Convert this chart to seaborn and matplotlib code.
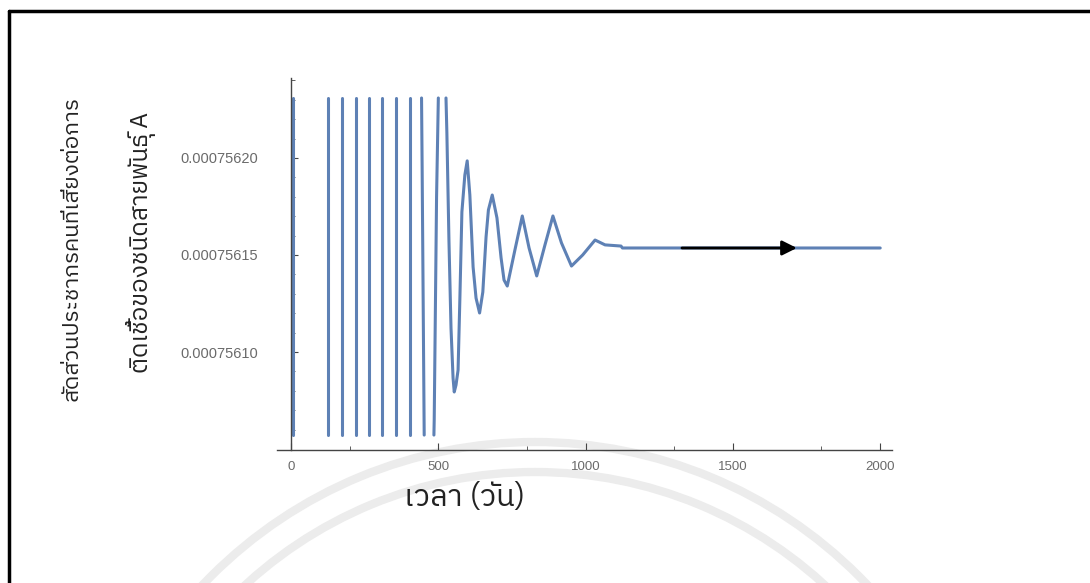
import numpy as np
import pandas as pd
import matplotlib
matplotlib.use("Agg")
import matplotlib.pyplot as plt
import seaborn as sns
from matplotlib import font_manager as fm
from matplotlib.lines import Line2D
from matplotlib.patches import Arc

# ---------------- data ----------------
PLOT_TOP = 0.0007562309   # upper edge of the plotted range (curve clipped here)
PLOT_BOT = 0.0007560572   # lower edge of the plotted range

# days where the curve sweeps through the whole plotted range (alternating down / up)
spike_days = [7, 124, 173, 221, 265, 309, 356, 404]

# last sweep down
sweep_down_days = [443, 445, 452]
sweep_down_vals = [PLOT_TOP, 0.0007561954, PLOT_BOT]

# last sweep up
sweep_up_days = [485, 486, 494, 500]
sweep_up_vals = [PLOT_BOT, 0.0007560650, 0.0007561799, PLOT_TOP]

# damped oscillation settling to the equilibrium
osc_days = [526, 529, 536, 543, 550, 554, 560, 567, 573, 580, 590, 598, 607, 618,
            628, 640, 651, 662, 670, 683, 699, 713, 723, 734, 760, 785, 808, 834,
            862, 889, 918, 952, 990, 1032, 1066, 1120, 1125, 2000]
osc_vals = [0.0007562309, 0.0007562129, 0.0007561577, 0.0007561124, 0.0007560866,
            0.0007560794, 0.0007560830, 0.0007560907, 0.0007561268, 0.0007561722,
            0.0007561912, 0.0007561985, 0.0007561809, 0.0007561438, 0.0007561278,
            0.0007561201, 0.0007561309, 0.0007561593, 0.0007561732, 0.0007561809,
            0.0007561691, 0.0007561485, 0.0007561371, 0.0007561340, 0.0007561526,
            0.0007561701, 0.0007561536, 0.0007561392, 0.0007561552, 0.0007561701,
            0.0007561562, 0.0007561443, 0.0007561500, 0.0007561577, 0.0007561552,
            0.0007561546, 0.0007561536, 0.0007561536]

arrow_start_day = 1327
arrow_end_day = 1717
equilibrium = 0.0007561536

x_major_ticks = [0, 500, 1000, 1500, 2000]
x_minor_ticks = [200, 800, 1300, 1800]
y_major_ticks = [0.00075610, 0.00075615, 0.00075620]
y_tick_labels = ["0.00075610", "0.00075615", "0.00075620"]

ylabel_line1 = "สัดส่วนประชากรคนที่เสี่ยงต่อการ"
ylabel_line2 = "ติดเชื้อของชนิดสายพันธุ์ A"
xlabel_text = "เวลา (วัน)"

# ---------------- build long table of segments ----------------
rows = []
seg = 0
for i, d in enumerate(spike_days):
    a, b = (PLOT_TOP, PLOT_BOT) if i % 2 == 0 else (PLOT_BOT, PLOT_TOP)
    rows.append((seg, d, a))
    rows.append((seg, d, b))
    seg += 1
for d, v in zip(sweep_down_days, sweep_down_vals):
    rows.append((seg, d, v))
seg += 1
for d, v in zip(sweep_up_days, sweep_up_vals):
    rows.append((seg, d, v))
seg += 1
for d, v in zip(osc_days, osc_vals):
    rows.append((seg, d, v))
df = pd.DataFrame(rows, columns=["seg", "day", "frac"])

# ---------------- fonts ----------------
sns.set_theme(style="white")


def find_font_with(ch):
    try:
        from fontTools.ttLib import TTFont
    except Exception:
        return None
    paths = fm.findSystemFonts()
    def pref(p):
        pl = p.lower()
        score = 0
        if "thai" in pl:
            score -= 10
        if "sans" in pl:
            score -= 3
        if "bold" in pl or "italic" in pl or "oblique" in pl:
            score += 5
        return score
    for path in sorted(paths, key=pref):
        try:
            f = TTFont(path, fontNumber=0, lazy=True)
            cmap = f.getBestCmap()
            if cmap and ord(ch) in cmap:
                return path
        except Exception:
            continue
    return None


thai_family = ["DejaVu Sans"]
p = find_font_with("ส")
if p:
    try:
        fm.fontManager.addfont(p)
        nm = fm.FontProperties(fname=p).get_name()
        thai_family = [nm, "DejaVu Sans"]
    except Exception:
        pass

plt.rcParams["font.family"] = ["Liberation Sans", "DejaVu Sans"]

# ---------------- figure ----------------
W, H = 1090, 583
fig = plt.figure(figsize=(W / 100, H / 100), dpi=100)
fig.patch.set_facecolor("white")

# faint watermark arcs behind the chart (in pixel units of the figure)
wm = fig.add_axes([0, 0, 1, 1], zorder=0)
wm.set_xlim(0, W)
wm.set_ylim(H, 0)
wm.axis("off")
for r in (458, 428):
    wm.add_patch(Arc((535, 900), 2 * r, 2 * r, theta1=0, theta2=360,
                     color="#ececec", lw=6))

ax = fig.add_axes([276.9 / W, 133 / H, (892 - 276.9) / W, (505 - 133) / H], zorder=1)
ax.set_facecolor("none")

sns.lineplot(data=df, x="day", y="frac", units="seg", estimator=None, sort=False,
             color="#5E81B5", lw=2.2, ax=ax, legend=False)

ax.annotate("", xy=(arrow_end_day, equilibrium), xytext=(arrow_start_day, equilibrium),
            arrowprops=dict(arrowstyle="-|>", color="black", lw=2.0,
                            mutation_scale=22, shrinkA=0, shrinkB=0))

ax.set_xlim(-48, 2040)
ax.set_ylim(0.0007560495, 0.0007562412)

for s in ["top", "right"]:
    ax.spines[s].set_visible(False)
ax.spines["left"].set_position(("data", 0))
for s in ["left", "bottom"]:
    ax.spines[s].set_color("#444444")
    ax.spines[s].set_linewidth(1.0)

ax.set_xticks(x_major_ticks)
ax.set_xticks(x_minor_ticks, minor=True)
ax.set_xticklabels([str(t) for t in x_major_ticks])
ax.set_yticks(y_major_ticks)
ax.set_yticklabels(y_tick_labels)
ax.set_yticks(np.arange(0.00075606, 0.00075624 + 1e-12, 0.00000001), minor=True)

ax.tick_params(axis="both", which="major", direction="in", length=5, width=0.8,
               color="#444444", labelcolor="#6a6a6a")
ax.tick_params(axis="both", which="minor", direction="in", length=3, width=0.6,
               color="#444444")
ax.tick_params(axis="x", which="both", pad=8, bottom=True, labelsize=9.5)
ax.tick_params(axis="y", which="both", pad=24, left=True, labelsize=10.5)
ax.set_xlabel("")
ax.set_ylabel("")
ax.grid(False)

# axis titles
fig.text(72 / W, 1 - 249 / H, ylabel_line1, rotation=90, ha="center", va="center",
         fontsize=16.2, color="#222222", family=thai_family)
fig.text(141 / W, 1 - 243 / H, ylabel_line2, rotation=90, ha="center", va="center",
         fontsize=17.5, color="#222222", family=thai_family)
fig.text(465 / W, 1 - 497 / H, xlabel_text, ha="center", va="center",
         fontsize=22, color="#222222", family=thai_family)

# page frame (top and left border of the surrounding box)
fig.add_artist(Line2D([9 / W, 1.0], [1 - 11 / H, 1 - 11 / H], color="black", lw=2.5,
                      transform=fig.transFigure))
fig.add_artist(Line2D([9 / W, 9 / W], [0.0, 1 - 11 / H], color="black", lw=2.5,
                      transform=fig.transFigure))

fig.savefig("out.png", dpi=100)
